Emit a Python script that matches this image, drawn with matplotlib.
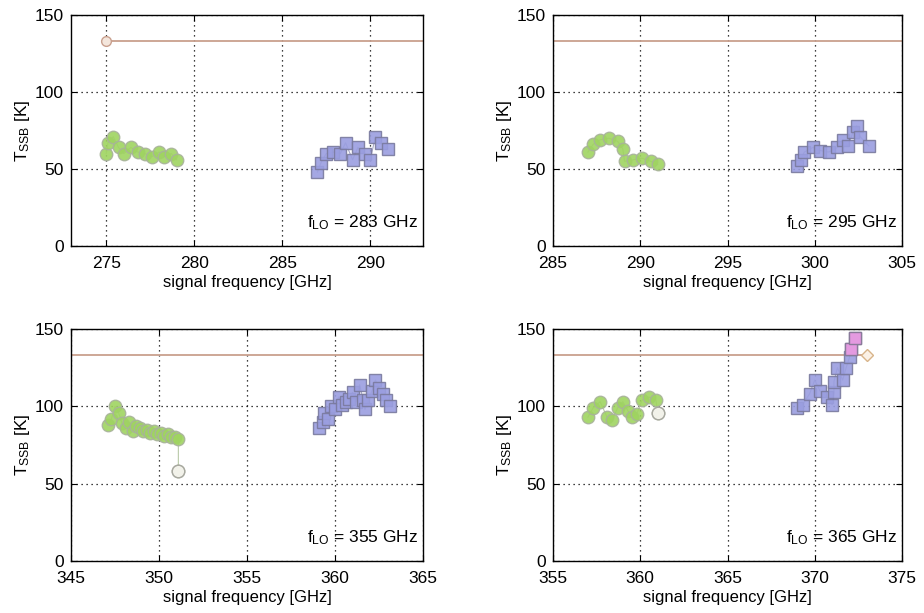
import matplotlib
matplotlib.use("Agg")
import matplotlib.pyplot as plt

plt.rcParams['font.family'] = ['Liberation Sans', 'DejaVu Sans']

# ---------------- data ----------------
# panel 1: f_LO = 283 GHz
p1_lsb_f = [275.0, 275.1, 275.4, 275.7, 276.0, 276.4, 276.8, 277.2, 277.6, 278.0, 278.3, 278.7, 279.0]
p1_lsb_t = [60, 67, 71, 64, 60, 64, 61, 60, 58, 61, 58, 60, 56]
p1_usb_f = [287.0, 287.2, 287.5, 287.9, 288.3, 288.6, 289.0, 289.3, 289.7, 290.0, 290.3, 290.6, 291.0]
p1_usb_t = [48, 54, 60, 61, 60, 67, 56, 64, 60, 56, 71, 67, 63]

# panel 2: f_LO = 295 GHz
p2_lsb_f = [287.0, 287.3, 287.7, 288.2, 288.7, 289.0, 289.1, 289.6, 290.1, 290.6, 291.0]
p2_lsb_t = [61, 66, 69, 70, 68, 63, 55, 56, 57, 55, 53]
p2_usb_f = [299.0, 299.2, 299.4, 299.9, 300.3, 300.8, 301.3, 301.6, 301.9, 302.2, 302.4, 302.6, 303.1]
p2_usb_t = [52, 56, 61, 64, 62, 61, 64, 69, 65, 74, 78, 71, 65]

# panel 3: f_LO = 355 GHz
p3_lsb_f = [347.1, 347.3, 347.5, 347.7, 347.9, 348.1, 348.3, 348.5, 348.7, 348.9, 349.1,
            349.3, 349.5, 349.7, 349.9, 350.1, 350.3, 350.5, 350.7, 350.9, 351.1, 351.1]
p3_lsb_t = [88, 92, 100, 96, 89, 86, 90, 84, 87, 86, 84, 85, 83, 84, 82, 83, 81, 82, 80, 80, 79, 58]
p3_usb_f = [359.1, 359.3, 359.4, 359.6, 359.8, 360.0, 360.2, 360.4, 360.6, 360.8, 361.0,
            361.2, 361.4, 361.6, 361.7, 361.9, 362.1, 362.3, 362.5, 362.7, 362.9, 363.1]
p3_usb_t = [86, 90, 96, 92, 100, 98, 106, 101, 103, 105, 109, 103, 114, 104, 98, 104, 110, 117, 112, 108, 104, 100]

# panel 4: f_LO = 365 GHz
p4_lsb_f = [357.0, 357.3, 357.7, 358.1, 358.4, 358.7, 359.0, 359.3, 359.5, 359.8, 360.1, 360.5, 360.9, 361.0]
p4_lsb_t = [93, 99, 103, 93, 91, 99, 103, 97, 93, 95, 104, 106, 104, 96]
p4_usb_f = [369.0, 369.3, 369.7, 370.0, 370.3, 370.7, 371.0, 371.1, 371.1, 371.3, 371.6, 371.8, 372.0, 372.1, 372.3]
p4_usb_t = [99, 101, 108, 117, 110, 106, 101, 109, 116, 125, 117, 125, 132, 137, 144]

# reference line (T_SSB limit)
ref_t = 133
p1_ref_f = [275.0, 293.0]
p2_ref_f = [285.0, 305.0]
p3_ref_f = [345.0, 365.0]
p4_ref_f = [355.0, 373.0]

lo_labels = ['283', '295', '355', '365']
xlims = [(273, 293), (285, 305), (345, 365), (355, 375)]
xticks = [[275, 280, 285, 290], [285, 290, 295, 300, 305],
          [345, 350, 355, 360, 365], [355, 360, 365, 370, 375]]
yticks = [0, 50, 100, 150]

panels = [
    (p1_lsb_f, p1_lsb_t, p1_usb_f, p1_usb_t, p1_ref_f),
    (p2_lsb_f, p2_lsb_t, p2_usb_f, p2_usb_t, p2_ref_f),
    (p3_lsb_f, p3_lsb_t, p3_usb_f, p3_usb_t, p3_ref_f),
    (p4_lsb_f, p4_lsb_t, p4_usb_f, p4_usb_t, p4_ref_f),
]

# ---------------- layout ----------------
W, H = 924, 613
fig = plt.figure(figsize=(W / 100, H / 100), dpi=100)
boxes = [
    (71, 15, 423, 246),
    (553, 15, 902, 246),
    (71, 329, 423, 561),
    (553, 329, 902, 561),
]

for i, (box, pdata) in enumerate(zip(boxes, panels)):
    x0, y0, x1, y1 = box
    ax = fig.add_axes([x0 / W, 1 - y1 / H, (x1 - x0) / W, (y1 - y0) / H])
    lf, lt, uf, ut, rf = pdata

    # reference line
    ax.plot(rf, [ref_t, ref_t], color='#c9a08e', lw=1.3, zorder=2)
    if i == 0:
        ax.plot([rf[0]], [ref_t], marker='o', ms=7, mfc='#f4e6dc', mec='#c9a08e', mew=1, zorder=3)
    if i == 3:
        ax.plot([rf[1]], [ref_t], marker='D', ms=6, mfc='#fbf1e6', mec='#d8b48a', mew=1, zorder=3)

    # lower sideband (green circles)
    ax.plot(lf, lt, color='#b9c9a8', lw=0.8, zorder=3)
    ax.plot(lf, lt, ls='none', marker='o', ms=9, mfc='#9fd460', mec='#a8b39a',
            mew=1.0, alpha=0.9, zorder=4)
    if i in (2, 3):
        ax.plot([lf[-1]], [lt[-1]], ls='none', marker='o', ms=9, mfc='#f2f2ea', mec='#a8a8a0',
                mew=1.0, zorder=5)

    # upper sideband (blue squares)
    ax.plot(uf, ut, color='#a8a8c8', lw=0.8, zorder=3)
    ax.plot(uf, ut, ls='none', marker='s', ms=8, mfc='#9a9ee0', mec='#7a7a9e',
            mew=1.0, alpha=0.9, zorder=4)
    if i == 3:
        ax.plot(uf[-2:], ut[-2:], ls='none', marker='s', ms=8, mfc='#e49ae0', mec='#8a7a9a',
                mew=1.0, zorder=5)

    ax.set_xlim(*xlims[i])
    ax.set_ylim(0, 150)
    ax.set_xticks(xticks[i])
    ax.set_yticks(yticks)
    ax.grid(True, color='black', ls=(0, (1, 3)), lw=0.9)
    ax.set_axisbelow(True)
    ax.tick_params(direction='in', top=True, right=True, labelsize=12.5, length=4)
    ax.tick_params(axis='x', pad=7)
    ax.tick_params(axis='y', pad=5)
    for s in ax.spines.values():
        s.set_color('black')
        s.set_linewidth(1.0)
    ax.set_xlabel('signal frequency [GHz]', fontsize=12, labelpad=3)
    ax.set_ylabel(r'$\mathregular{T_{SSB}}$ [K]', fontsize=12.5, labelpad=2)
    ax.text(0.985, 0.06, r'$\mathregular{f_{LO}}$ = %s GHz' % lo_labels[i],
            transform=ax.transAxes, ha='right', va='bottom', fontsize=12.5)

fig.savefig('out.png', dpi=100)
